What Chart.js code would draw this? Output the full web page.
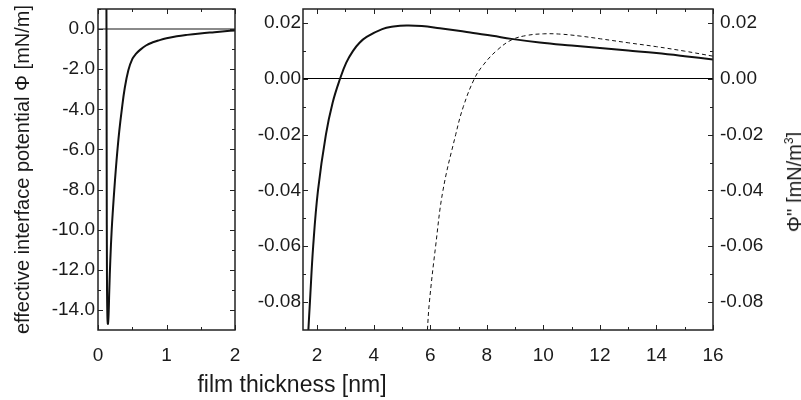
<!DOCTYPE html>
<html><head><meta charset="utf-8">
<script src="https://cdn.jsdelivr.net/npm/chart.js@4.4.1/dist/chart.umd.min.js"></script>
<style>
html,body{margin:0;padding:0;background:#fff;}
#wrap{position:relative;width:801px;height:400px;overflow:hidden;font-family:"Liberation Sans",Arial,Helvetica,sans-serif;color:#1a1a1a;background:#fff;}
#cA{position:absolute;left:0;top:0;width:250px;height:400px;}
#cB{position:absolute;left:250px;top:0;width:551px;height:400px;}
.t{position:absolute;white-space:nowrap;line-height:1;}
#xt{left:292px;top:384px;font-size:23px;transform:translate(-50%,-50%);}
#yr{left:794px;top:182px;font-size:20px;transform:translate(-50%,-50%) rotate(-90deg);}
#yr sup{font-size:12px;vertical-align:0;position:relative;top:-8px;}
</style></head><body>
<div id="wrap">
<canvas id="cA" width="250" height="400"></canvas>
<canvas id="cB" width="551" height="400"></canvas>
<div class="t" id="xt">film thickness [nm]</div>
<div class="t" id="yr">Φ'' [mN/m<sup>3</sup>]</div>
</div>
<script>
// ---- Left panel: effective interface potential Φ [mN/m] vs film thickness [nm]
const phiX = [0.121, 0.124, 0.127, 0.131, 0.137, 0.145, 0.155, 0.165, 0.18, 0.2, 0.22, 0.238, 0.26, 0.282, 0.31, 0.346, 0.39, 0.443, 0.5, 0.55, 0.61, 0.7, 0.8, 0.9, 1.0, 1.15, 1.3, 1.49, 1.7, 1.85, 2.0];
const phiY = [3.0, 0.0, -7.0, -12.5, -14.3, -14.7, -14.2, -13.0, -11.5, -10.0, -8.9, -8.0, -7.0, -6.1, -5.1, -4.05, -2.95, -2.05, -1.5, -1.25, -1.05, -0.82, -0.66, -0.55, -0.46, -0.36, -0.29, -0.22, -0.155, -0.11, -0.07];
const leftXTicks = [0, 1, 2];
const leftXMinor = [0.5, 1.5];
const leftYTicks = [0, -2, -4, -6, -8, -10, -12, -14];
const leftYMinor = [1, -1, -3, -5, -7, -9, -11, -13];

// ---- Right panel: Φ (solid) and Φ'' (dashed)
const phiRX = [1.64, 1.69, 1.745, 1.86, 2.03, 2.31, 2.55, 2.81, 3.03, 3.27, 3.5, 3.75, 4.3, 4.7, 5.16, 5.7, 6.34, 7.0, 7.52, 8.2, 8.87, 9.87, 11.0, 12.0, 13.0, 14.0, 15.0, 16.0];
const phiRY = [-0.1, -0.09, -0.08, -0.06, -0.04, -0.02, -0.0085, 0.0, 0.0058, 0.01, 0.0129, 0.015, 0.0178, 0.0187, 0.0191, 0.0189, 0.0181, 0.0172, 0.0164, 0.0154, 0.0143, 0.013, 0.0119, 0.011, 0.0101, 0.0092, 0.0081, 0.0069];
const phi2X = [5.84, 5.9, 5.97, 6.19, 6.45, 6.9, 7.17, 7.56, 7.88, 8.35, 8.87, 9.4, 10.0, 10.6, 11.3, 12.03, 13.0, 14.0, 15.0, 16.0];
const phi2Y = [-0.1, -0.09, -0.08, -0.06, -0.04, -0.02, -0.01, 0.0, 0.005, 0.0101, 0.0139, 0.0155, 0.0161, 0.016, 0.0153, 0.0143, 0.0129, 0.0115, 0.0099, 0.0081];
const rightXTicks = [2, 4, 6, 8, 10, 12, 14, 16];
const rightXMinor = [3, 5, 7, 9, 11, 13, 15];
const rightYTicks = [0.02, 0, -0.02, -0.04, -0.06, -0.08];
const rightYMinor = [0.01, -0.01, -0.03, -0.05, -0.07, -0.09];

const FAM = '"Liberation Sans", Arial, Helvetica, sans-serif';
Chart.defaults.font.family = FAM;
Chart.defaults.color = '#1a1a1a';

function fix(prop, val) {
  return (s) => { s[prop] = val; s.paddingLeft = 0; s.paddingRight = 0; s.paddingTop = 0; s.paddingBottom = 0; };
}
function setTicks(arr) { return (s) => { s.ticks = arr.map(v => ({ value: v })); }; }
function pts(xs, ys) { return xs.map((x, i) => ({ x: x, y: ys[i] })); }

const framePlugin = {
  id: 'frame',
  afterDatasetsDraw(chart, args, o) {
    const { ctx, chartArea: a, scales } = chart;
    const xs = scales.x, ys = scales.y;
    ctx.save();
    ctx.strokeStyle = '#222';
    ctx.lineWidth = 1;
    const vx = (vals, len) => vals.forEach(v => {
      const p = Math.round(xs.getPixelForValue(v)) + 0.5;
      ctx.beginPath();
      ctx.moveTo(p, a.bottom); ctx.lineTo(p, a.bottom - len);
      ctx.moveTo(p, a.top); ctx.lineTo(p, a.top + len);
      ctx.stroke();
    });
    const vy = (vals, len) => vals.forEach(v => {
      const p = Math.round(ys.getPixelForValue(v)) + 0.5;
      if (p < a.top || p > a.bottom) return;
      ctx.beginPath();
      ctx.moveTo(a.left, p); ctx.lineTo(a.left + len, p);
      ctx.moveTo(a.right, p); ctx.lineTo(a.right - len, p);
      ctx.stroke();
    });
    vx(o.xMajor, 5); vx(o.xMinor, 3);
    vy(o.yMajor, 5); vy(o.yMinor, 3);
    ctx.lineWidth = 1.5;
    ctx.strokeRect(a.left, a.top, a.right - a.left, a.bottom - a.top);
    ctx.restore();
  }
};

const tickFont = { size: 19, family: FAM };

// Left chart
new Chart(document.getElementById('cA'), {
  type: 'line',
  data: { datasets: [{
    data: pts(phiX, phiY), borderColor: '#111', borderWidth: 2, pointRadius: 0,
    tension: 0.4, fill: false
  }] },
  options: {
    responsive: false, animation: false, devicePixelRatio: 1,
    layout: { padding: { left: 0, right: 15, top: 9, bottom: 30 } },
    plugins: { legend: { display: false }, tooltip: { enabled: false },
      frame: { xMajor: leftXTicks, xMinor: leftXMinor, yMajor: leftYTicks, yMinor: leftYMinor } },
    scales: {
      x: { type: 'linear', min: 0, max: 2, afterBuildTicks: setTicks(leftXTicks), afterFit: fix('height', 40),
        grid: { display: false }, border: { display: false },
        ticks: { font: tickFont, padding: 6, autoSkip: false, maxRotation: 0, callback: v => String(v) } },
      y: { type: 'linear', min: -15, max: 1, afterBuildTicks: setTicks(leftYTicks), afterFit: fix('width', 98),
        border: { display: false },
        grid: { drawTicks: false, lineWidth: 2, color: c => (c.tick && c.tick.value === 0) ? '#8a8a8a' : 'rgba(0,0,0,0)' },
        ticks: { font: tickFont, padding: 3, autoSkip: false, callback: v => Number(v).toFixed(1) },
        title: { display: true, text: 'effective interface potential Φ [mN/m]', font: { size: 20, family: FAM }, padding: { top: 11, bottom: 0 } } }
    }
  },
  plugins: [framePlugin]
});

// Right chart
new Chart(document.getElementById('cB'), {
  type: 'line',
  data: { datasets: [
    { data: pts(phiRX, phiRY), borderColor: '#111', borderWidth: 2, pointRadius: 0, tension: 0.4, fill: false },
    { data: pts(phi2X, phi2Y), borderColor: '#111', borderWidth: 1, borderDash: [4, 3], pointRadius: 0, tension: 0.4, fill: false }
  ] },
  options: {
    responsive: false, animation: false, devicePixelRatio: 1,
    layout: { padding: { left: 0, right: 0, top: 9, bottom: 30 } },
    plugins: { legend: { display: false }, tooltip: { enabled: false },
      frame: { xMajor: rightXTicks, xMinor: rightXMinor, yMajor: rightYTicks, yMinor: rightYMinor } },
    scales: {
      x: { type: 'linear', min: 1.5, max: 16, afterBuildTicks: setTicks(rightXTicks), afterFit: fix('height', 40),
        grid: { display: false }, border: { display: false },
        ticks: { font: tickFont, padding: 6, autoSkip: false, maxRotation: 0, callback: v => String(v) } },
      y: { type: 'linear', position: 'left', min: -0.09, max: 0.025, afterBuildTicks: setTicks(rightYTicks), afterFit: fix('width', 53),
        border: { display: false },
        grid: { drawTicks: false, lineWidth: 1, color: c => (c.tick && Math.abs(c.tick.value) < 1e-9) ? '#000' : 'rgba(0,0,0,0)' },
        ticks: { font: tickFont, padding: 2, autoSkip: false, callback: v => Number(v).toFixed(2) } },
      y2: { type: 'linear', position: 'right', min: -0.09, max: 0.025, afterBuildTicks: setTicks(rightYTicks), afterFit: fix('width', 88),
        border: { display: false }, grid: { display: false, drawTicks: false },
        ticks: { font: tickFont, padding: 7, autoSkip: false, callback: v => Number(v).toFixed(2) } }
    }
  },
  plugins: [framePlugin]
});
</script>
</body></html>
